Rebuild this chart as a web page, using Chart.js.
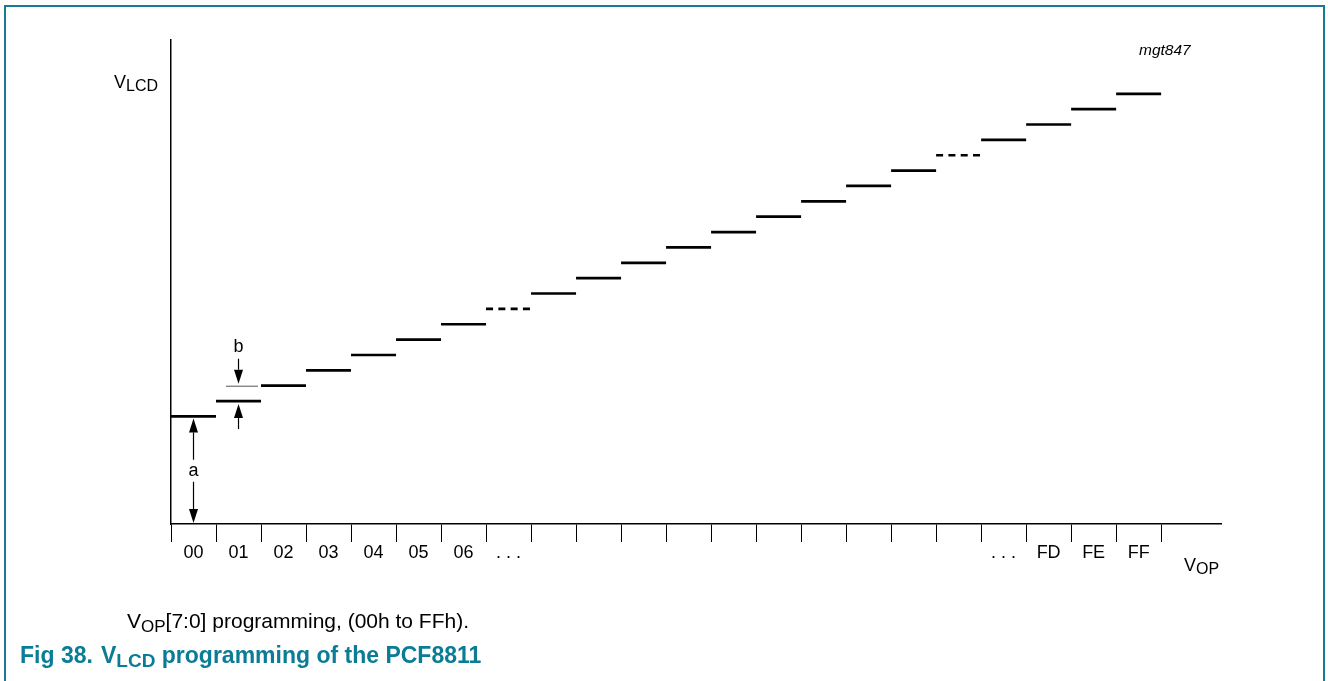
<!DOCTYPE html>
<html><head><meta charset="utf-8">
<script src="https://cdn.jsdelivr.net/npm/chart.js@4/dist/chart.umd.min.js"></script>
<style>
html,body{margin:0;padding:0;background:#fff;width:1328px;height:681px;overflow:hidden;font-family:"Liberation Sans",Arial,sans-serif;}
#frame{position:absolute;left:4px;top:5px;width:1321px;height:720px;border:2px solid #1a7a93;border-bottom:none;box-sizing:border-box;}
#c{position:absolute;left:0;top:0;}
.t{position:absolute;white-space:nowrap;color:#000;line-height:1;}
.sub{position:relative;}
</style></head>
<body>
<div id="frame"></div>
<canvas id="c" width="1328" height="681"></canvas>
<div class="t" style="left:114px;top:73px;font-size:18px;">V<span class="sub" style="font-size:16px;top:3px;">LCD</span></div>
<div class="t" style="left:1139px;top:42px;font-size:15.5px;font-style:italic;">mgt847</div>
<div class="t" style="left:1184px;top:556px;font-size:18px;">V<span class="sub" style="font-size:16px;top:3px;">OP</span></div>
<div class="t" style="left:127px;top:610px;font-size:21px;">V<span class="sub" style="font-size:17px;top:4px;">OP</span>[7:0] programming, (00h to FFh).</div>
<div class="t" style="left:20px;top:644px;font-size:23px;font-weight:bold;color:#0b7c95;">Fig 38.</div>
<div class="t" style="left:101px;top:644px;font-size:23px;font-weight:bold;color:#0b7c95;">V<span class="sub" style="font-size:19px;top:4px;">LCD</span> programming of the PCF8811</div>
<script>
// ---- data ----
const codes = ['00','01','02','03','04','05','06','. . .','','','','','','','','','','','. . .','FD','FE','FF'];
const vLcd = [7,8,9,10,11,12,13,14,15,16,17,18,19,20,21,22,23,24,25,26,27,28];
const dashedSlots = [7,17];
const yMax = 31.5;
const xMax = 23.33;

// one horizontal step per code, separated by gaps
const stepPoints = [];
codes.forEach((c, i) => {
  stepPoints.push({x: i, y: vLcd[i]});
  stepPoints.push({x: i + 1, y: vLcd[i]});
  stepPoints.push({x: i + 1, y: null});
});

function arrow(ctx, x, yTail, yTip) {
  const dir = Math.sign(yTip - yTail), hl = 14, hw = 4.5;
  ctx.beginPath(); ctx.moveTo(x, yTail); ctx.lineTo(x, yTip - dir * hl); ctx.stroke();
  ctx.beginPath(); ctx.moveTo(x, yTip); ctx.lineTo(x - hw, yTip - dir * hl); ctx.lineTo(x + hw, yTip - dir * hl); ctx.closePath(); ctx.fill();
}

const annot = {
  id: 'annot',
  afterDatasetsDraw(chart) {
    const ctx = chart.ctx, xs = chart.scales.x, ys = chart.scales.y;
    ctx.save();
    ctx.strokeStyle = '#000'; ctx.fillStyle = '#000'; ctx.lineWidth = 1.2;
    // a : offset of the 00h level from 0
    const ax = xs.getPixelForValue(0.5);
    const aTop = ys.getPixelForValue(vLcd[0]) + 2;
    const aBot = ys.getPixelForValue(0) - 1;
    const aMid = (aTop + aBot) / 2;
    arrow(ctx, ax, aMid - 11, aTop);
    arrow(ctx, ax, aMid + 11, aBot);
    ctx.font = '18px "Liberation Sans", Arial, sans-serif';
    ctx.textAlign = 'center'; ctx.textBaseline = 'middle';
    ctx.fillText('a', ax, aMid);
    // b : step size
    const bx = xs.getPixelForValue(1.5);
    const yUp = ys.getPixelForValue(vLcd[2]);
    const yLo = ys.getPixelForValue(vLcd[1]);
    ctx.strokeStyle = '#555'; ctx.lineWidth = 1;
    ctx.beginPath(); ctx.moveTo(xs.getPixelForValue(1) + 10, yUp + 0.5); ctx.lineTo(xs.getPixelForValue(2) - 3, yUp + 0.5); ctx.stroke();
    ctx.strokeStyle = '#000'; ctx.lineWidth = 1.2;
    arrow(ctx, bx, yUp - 27, yUp - 2);
    arrow(ctx, bx, yLo + 28, yLo + 3);
    ctx.fillText('b', bx, yUp - 39);
    ctx.restore();
  }
};

const chart = new Chart(document.getElementById('c'), {
  type: 'line',
  data: {
    datasets: [{
      data: stepPoints,
      borderColor: '#000',
      borderWidth: 2.7,
      pointRadius: 0,
      spanGaps: false,
      tension: 0,
      segment: {
        borderDash: ctx => dashedSlots.includes(Math.floor(ctx.p0.parsed.x + 1e-6)) ? [7, 5.3] : undefined
      }
    }]
  },
  options: {
    responsive: false,
    animation: false,
    devicePixelRatio: 1,
    layout: {padding: {left: 171, right: 107, top: 40, bottom: 118}},
    plugins: {legend: {display: false}, tooltip: {enabled: false}},
    scales: {
      x: {
        type: 'linear', min: 0, max: xMax,
        afterBuildTicks: s => { s.ticks = codes.map((c, i) => ({value: i})).concat([{value: codes.length}]); },
        grid: {drawOnChartArea: false, drawTicks: true, tickLength: 18, color: '#000', lineWidth: 1},
        border: {display: true, color: '#000', width: 1.5},
        ticks: {
          autoSkip: false, maxRotation: 0, minRotation: 0, padding: 0, labelOffset: 22.5,
          color: '#000', font: {family: '"Liberation Sans", Arial, sans-serif', size: 18},
          callback: v => codes[v] !== undefined ? codes[v] : ''
        }
      },
      y: {
        type: 'linear', min: 0, max: yMax,
        grid: {display: false, drawOnChartArea: false, drawTicks: false},
        border: {display: true, color: '#000', width: 1.5},
        ticks: {display: false}
      }
    }
  },
  plugins: [annot]
});

// pin the plot area to the reference position
const target = {left: 171, right: 1221, top: 40, bottom: 524};
for (let k = 0; k < 2; k++) {
  const ca = chart.chartArea, p = chart.options.layout.padding;
  chart.options.layout.padding = {
    left: p.left + (target.left - ca.left),
    right: p.right + (ca.right - target.right),
    top: p.top + (target.top - ca.top),
    bottom: p.bottom + (ca.bottom - target.bottom)
  };
  chart.update('none');
}
</script>
</body></html>
